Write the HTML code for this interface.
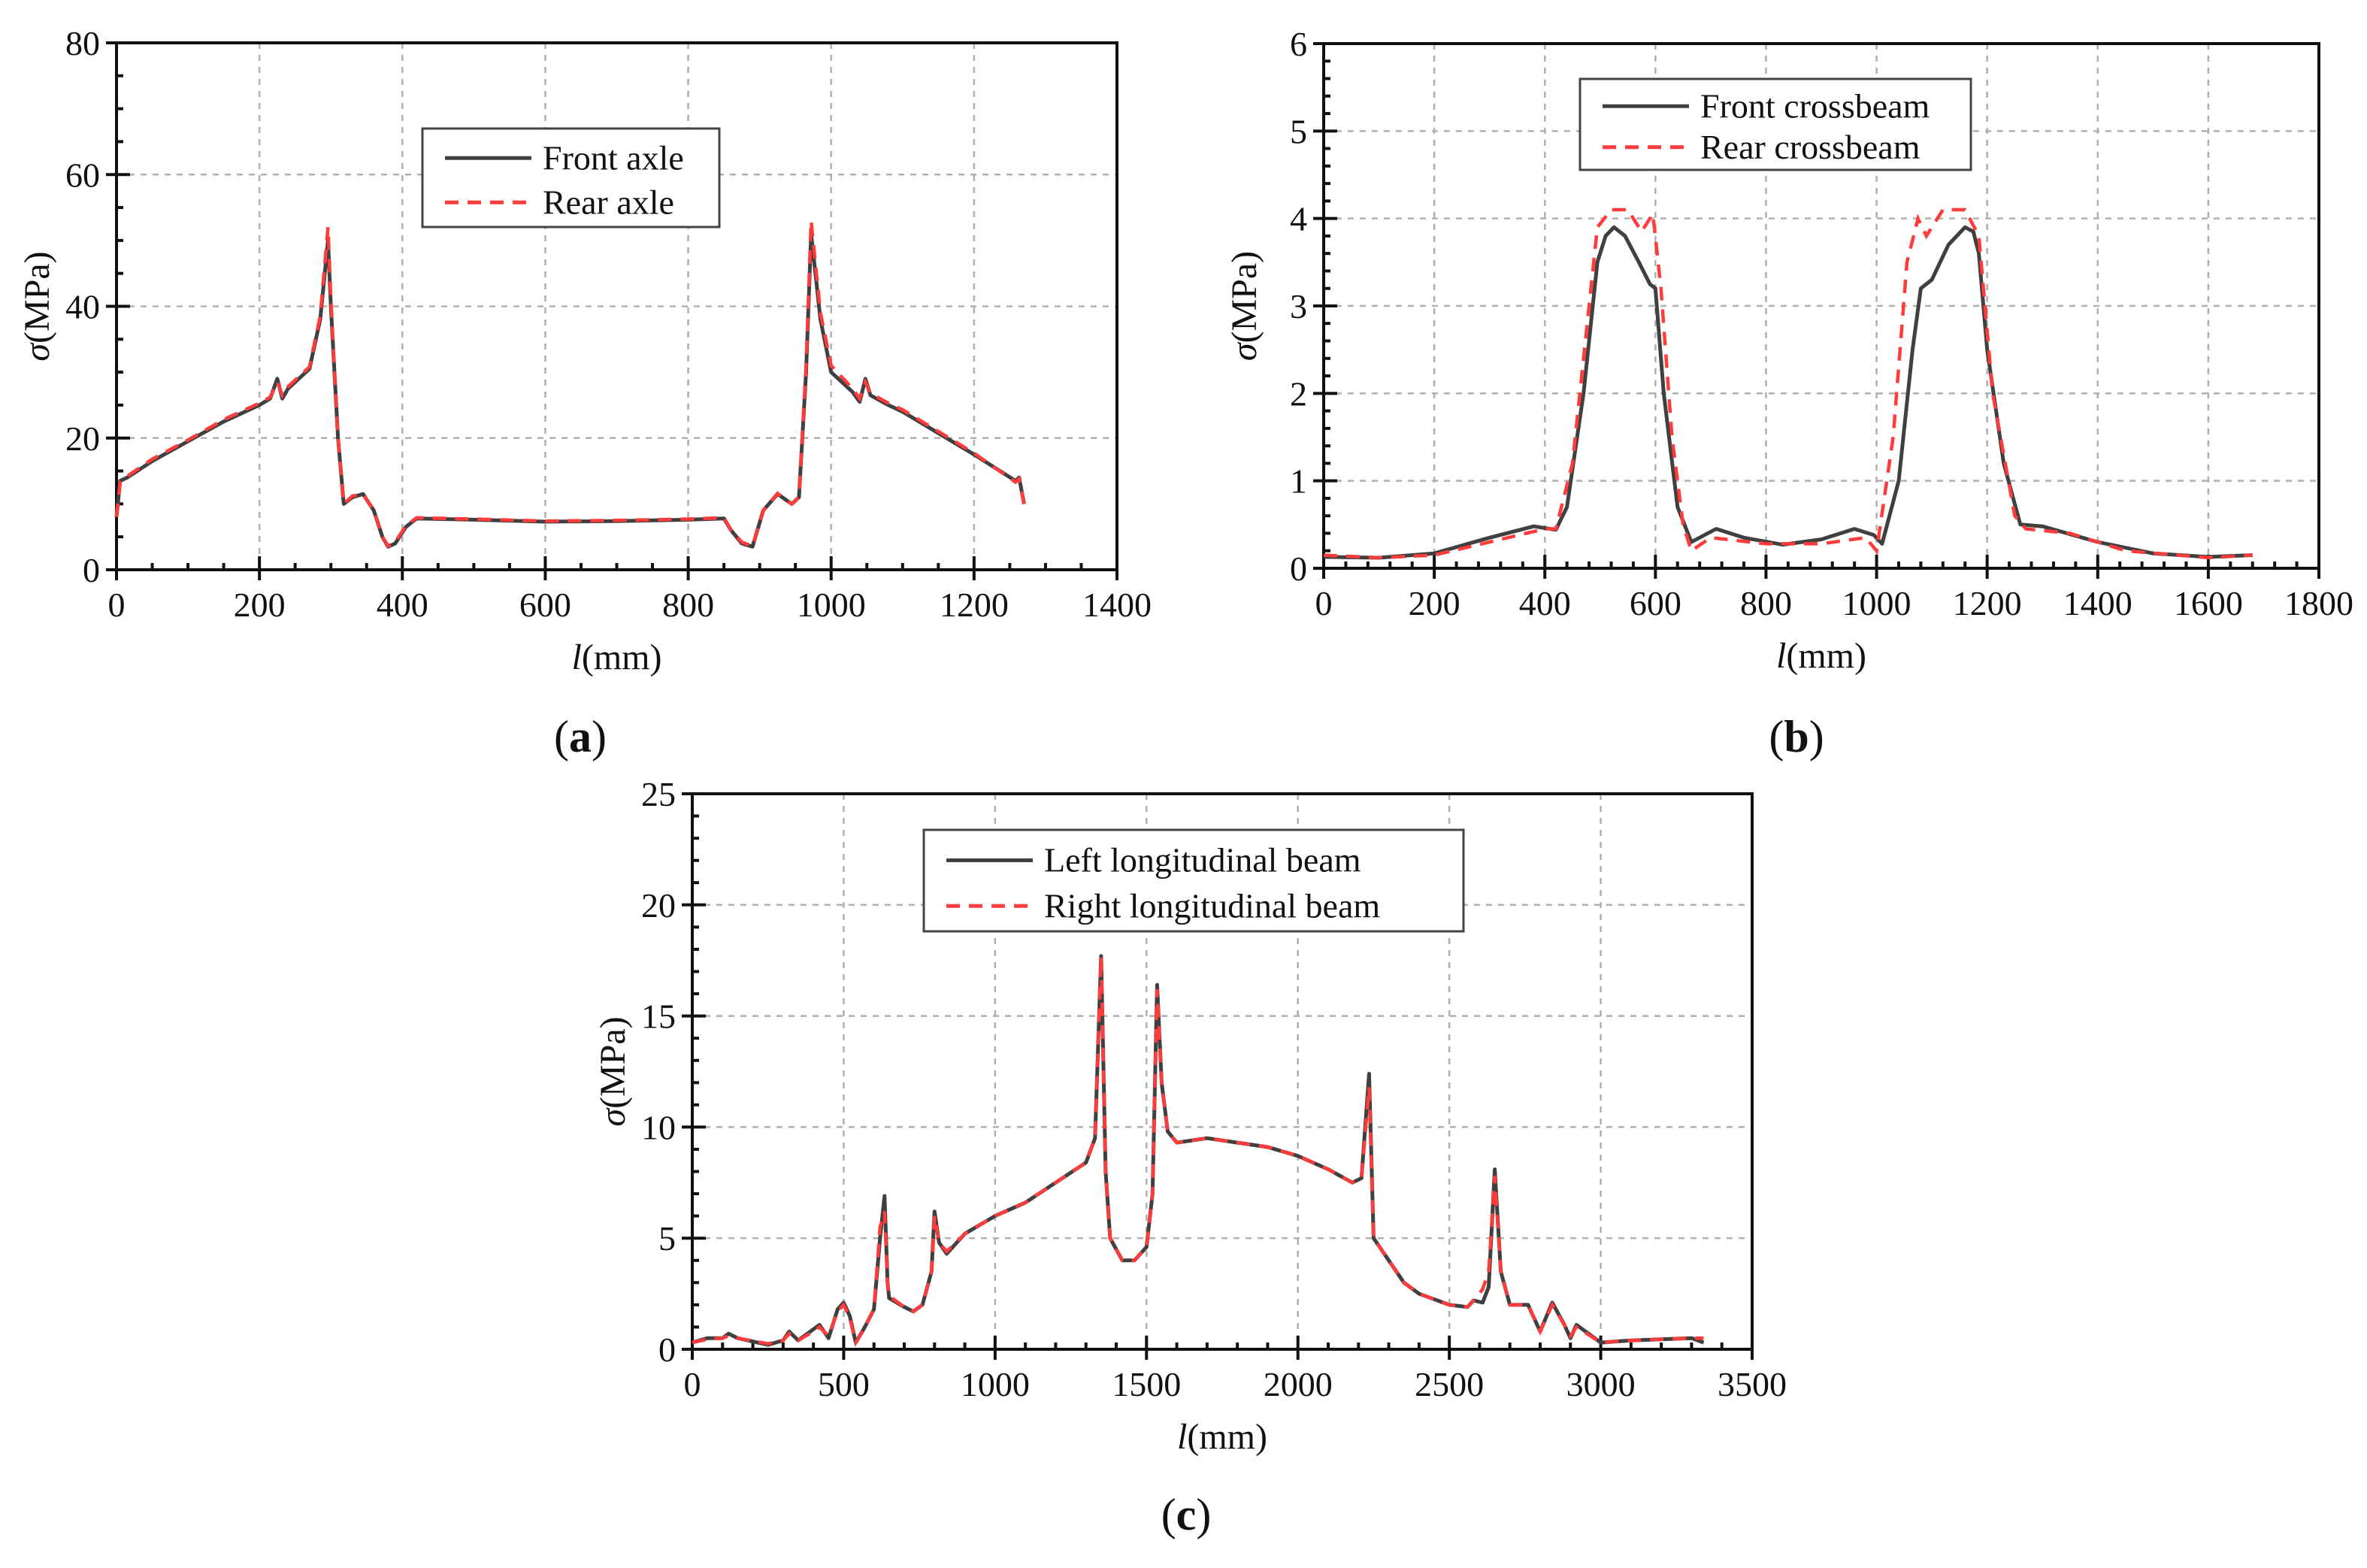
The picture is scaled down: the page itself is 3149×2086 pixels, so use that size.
<!DOCTYPE html>
<html><head><meta charset="utf-8"><style>
html,body{margin:0;padding:0;background:#fff}
svg text{font-family:"Liberation Serif",serif;fill:#111}
</style></head><body>
<svg id="fig" xmlns="http://www.w3.org/2000/svg" width="3149" height="2081" viewBox="0 0 3149 2081">
<rect width="3149" height="2081" fill="#fff"/>
</svg>
<script>
// Panel (a)
const aFrontX=[0,5,15,50,100,150,200,215,225,232,240,270,285,296,300,310,318,330,345,360,372,380,390,405,420,500,600,700,800,850,860,875,890,905,925,945,955,965,972,985,1000,1030,1040,1048,1055,1080,1100,1200,1258,1263,1270];
const aFrontY=[8,13.5,14,16.5,19.5,22.5,25,26,29,26,27.5,30.5,38,50,40,20,10,11,11.5,9,5,3.5,4,6.5,7.8,7.6,7.3,7.4,7.6,7.8,6,4,3.5,9,11.5,10,11,30,51,38,30,27,25.5,29,26.5,25,24,17.5,13.5,14,10];
const aRearX=[0,5,15,50,100,150,200,215,225,232,240,270,285,296,300,310,318,330,345,360,372,380,390,405,420,500,600,700,800,850,860,875,890,905,925,945,955,965,972,985,1000,1030,1040,1048,1055,1080,1100,1200,1258,1263,1270];
const aRearY=[8,13.3,14.2,16.8,19.7,22.8,25.3,26.2,28.5,26.5,27.8,30.8,38.5,52,41,20,10,11.2,11.5,9,5,3.6,4.2,6.7,7.9,7.7,7.4,7.5,7.7,7.9,6,4.2,3.6,9,11.6,10,11,31,53,39,31,27.5,26,28.5,26.8,25.3,24.3,17.7,13.3,13.8,10];
// Panel (b)
const bFrontX=[0,100,200,300,380,420,440,470,495,510,525,545,570,590,600,615,640,665,710,760,830,900,960,995,1010,1040,1065,1080,1100,1130,1160,1175,1185,1200,1230,1260,1300,1400,1500,1600,1680];
const bFrontY=[0.13,0.12,0.17,0.35,0.48,0.44,0.7,2,3.5,3.8,3.9,3.8,3.5,3.25,3.2,2,0.7,0.3,0.45,0.35,0.27,0.33,0.45,0.38,0.28,1,2.5,3.2,3.3,3.7,3.9,3.85,3.6,2.5,1.2,0.5,0.48,0.3,0.17,0.13,0.15];
const bRearX=[0,100,200,300,400,420,450,480,495,520,550,575,595,598,610,630,650,665,700,800,900,980,1000,1030,1055,1075,1090,1120,1160,1185,1210,1250,1270,1350,1450,1600,1680];
const bRearY=[0.15,0.12,0.15,0.3,0.45,0.45,1.2,3,3.9,4.1,4.1,3.85,4.05,3.9,3.2,1.5,0.5,0.2,0.35,0.28,0.28,0.35,0.2,1.5,3.5,4.0,3.8,4.1,4.1,3.8,2,0.6,0.45,0.4,0.2,0.12,0.15];
// Panel (c)
const cFrontX=[0,50,100,120,150,250,300,320,350,400,420,450,480,500,520,540,570,600,620,635,645,650,700,730,760,790,800,815,840,900,1000,1100,1200,1300,1330,1350,1365,1380,1420,1460,1500,1520,1535,1550,1570,1600,1700,1800,1900,2000,2100,2180,2210,2235,2250,2300,2350,2400,2500,2560,2580,2610,2630,2650,2670,2700,2760,2800,2840,2880,2900,2920,3000,3100,3300,3340];
const cFrontY=[0.3,0.5,0.5,0.7,0.5,0.2,0.4,0.8,0.4,0.9,1.1,0.5,1.8,2.1,1.5,0.3,1.0,1.8,5,6.9,3,2.3,1.9,1.7,2.0,3.5,6.2,4.8,4.3,5.2,6,6.6,7.5,8.4,9.5,17.7,8,5,4,4,4.6,7,16.4,12,9.8,9.3,9.5,9.3,9.1,8.7,8.1,7.5,7.7,12.4,5,4,3,2.5,2.0,1.9,2.2,2.1,2.8,8.1,3.5,2.0,2.0,0.8,2.1,1.1,0.5,1.1,0.3,0.4,0.5,0.3];
const cRearX=cFrontX.slice();
const cRearY=[0.3,0.45,0.5,0.6,0.5,0.25,0.4,0.7,0.4,0.8,1.0,0.6,1.7,2.0,1.4,0.3,1.0,1.8,5.5,6.2,3,2.4,1.9,1.7,2.0,3.5,6.0,4.8,4.4,5.2,6,6.6,7.5,8.4,9.5,17.7,8,5,4,4,4.6,7,16.2,12,9.8,9.3,9.5,9.3,9.1,8.7,8.1,7.5,7.7,11.8,5,4,3,2.5,2.0,1.9,2.2,2.7,3.5,7.8,3.5,2.0,2.0,0.8,2.0,1.1,0.6,1.0,0.3,0.4,0.5,0.5];

const NS='http://www.w3.org/2000/svg';
const svg=document.getElementById('fig');
function mk(tag,attrs,parent){const e=document.createElementNS(NS,tag);for(const k in attrs)e.setAttribute(k,attrs[k]);(parent||svg).appendChild(e);return e;}

function panel(p){
  const g=mk('g',{});
  
  
  const sx=v=>p.L+(v-p.xmin)/(p.xmax-p.xmin)*(p.R-p.L);
  const sy=v=>p.B-(v-p.ymin)/(p.ymax-p.ymin)*(p.B-p.T);
  // grid
  const grid=mk('g',{stroke:'#b0b0b0','stroke-width':2.5,'stroke-dasharray':'8 8'},g);
  
  
  for(let v=p.xmin+p.xstep;v<p.xmax-1e-9;v+=p.xstep)mk('line',{x1:sx(v),x2:sx(v),y1:p.T,y2:p.B},grid);
  for(let v=p.ymin+p.ystep;v<p.ymax-1e-9;v+=p.ystep)mk('line',{x1:p.L,x2:p.R,y1:sy(v),y2:sy(v)},grid);
  // frame
  const fr=mk('rect',{x:p.L,y:p.T,width:p.R-p.L,height:p.B-p.T,fill:'none',stroke:'#111','stroke-width':4},g);
  
  
  // ticks
  const tk=mk('g',{stroke:'#111','stroke-width':4},g);
  for(let v=p.xmin;v<=p.xmax+1e-9;v+=p.xminor){
    const major=Math.abs(((v-p.xmin)/p.xstep)-Math.round((v-p.xmin)/p.xstep))<1e-6;
    mk('line',{x1:sx(v),x2:sx(v),y1:major?p.B+14:p.B,y2:major?p.B-18:p.B-9},tk);
  }
  for(let v=p.ymin;v<=p.ymax+1e-9;v+=p.yminor){
    const major=Math.abs(((v-p.ymin)/p.ystep)-Math.round((v-p.ymin)/p.ystep))<1e-6;
    mk('line',{y1:sy(v),y2:sy(v),x1:major?p.L-14:p.L,x2:major?p.L+18:p.L+9},tk);
  }
  for(let v=p.xmin;v<=p.xmax+1e-9;v+=p.xstep){
    const t=mk('text',{x:sx(v),y:p.B+62,'text-anchor':'middle','font-size':46},g);
    t.textContent=String(Math.round(v));
    
    
  }
  for(let v=p.ymin;v<=p.ymax+1e-9;v+=p.ystep){
    const t=mk('text',{x:p.L-22,y:sy(v)+16,'text-anchor':'end','font-size':46},g);
    t.textContent=String(Math.round(v));
    
    
  }
  // titles
  const xt=mk('text',{x:(p.L+p.R)/2,y:p.B+132,'text-anchor':'middle','font-size':48},g);
  xt.innerHTML='<tspan font-style="italic">l</tspan>(mm)';
  
  
  const yx=p.L-90, yy=(p.T+p.B)/2;
  const yt=mk('text',{x:yx,y:yy,'text-anchor':'middle','font-size':48,transform:`rotate(-90 ${yx} ${yy})`},g);
  yt.innerHTML='<tspan font-style="italic">σ</tspan>(MPa)';
  
  
  const pl=mk('text',{x:p.labX,y:p.labY,'text-anchor':'middle','font-size':60},g);
  pl.innerHTML='(<tspan font-weight="bold">'+p.lab+'</tspan>)';
  
  
  // series
  const path=(xs,ys)=>xs.map((x,i)=>(i?'L':'M')+sx(x).toFixed(1)+' '+sy(ys[i]).toFixed(1)).join(' ');
  const s1=mk('path',{d:path(p.x1,p.y1),fill:'none',stroke:'#404040','stroke-width':5,'stroke-linejoin':'round'},g);
  
  
  const s2=mk('path',{d:path(p.x2,p.y2),fill:'none',stroke:'#ff3b3b','stroke-width':4.5,'stroke-dasharray':'18 12'},g);
  
  
  // legend
  const lg=mk('g',{},g);
  
  
  const [lx,ly,lw,lh]=p.leg;
  mk('rect',{x:lx,y:ly,width:lw,height:lh,fill:'#fff',stroke:'#444','stroke-width':3},lg);
  const r1=ly+lh*0.3, r2=ly+lh*0.75;
  mk('line',{x1:lx+30,x2:lx+145,y1:r1,y2:r1,stroke:'#404040','stroke-width':5},lg);
  mk('line',{x1:lx+30,x2:lx+145,y1:r2,y2:r2,stroke:'#ff3b3b','stroke-width':5,'stroke-dasharray':'18 12'},lg);
  const t1=mk('text',{x:lx+160,y:r1+15,'font-size':46},lg);t1.textContent=p.n1;
  
  
  const t2=mk('text',{x:lx+160,y:r2+15,'font-size':46},lg);t2.textContent=p.n2;
  
  
}
panel({name:'chart-a',L:155,R:1486,T:57,B:758,xmin:0,xmax:1400,xstep:200,xminor:50,ymin:0,ymax:80,ystep:20,yminor:5,
  x1:aFrontX,y1:aFrontY,x2:aRearX,y2:aRearY,n1:'Front axle',n2:'Rear axle',leg:[562,171,395,131],lab:'a',labX:772,labY:1000});
panel({name:'chart-b',L:1761,R:3085,T:58,B:756,xmin:0,xmax:1800,xstep:200,xminor:40,ymin:0,ymax:6,ystep:1,yminor:0.2,
  x1:bFrontX,y1:bFrontY,x2:bRearX,y2:bRearY,n1:'Front crossbeam',n2:'Rear crossbeam',leg:[2102,105,520,121],lab:'b',labX:2390,labY:1000});
panel({name:'chart-c',L:921,R:2331,T:1056,B:1795,xmin:0,xmax:3500,xstep:500,xminor:100,ymin:0,ymax:25,ystep:5,yminor:1,
  x1:cFrontX,y1:cFrontY,x2:cRearX,y2:cRearY,n1:'Left longitudinal beam',n2:'Right longitudinal beam',leg:[1229,1104,718,135],lab:'c',labX:1578,labY:2035});
</script>
</body></html>
